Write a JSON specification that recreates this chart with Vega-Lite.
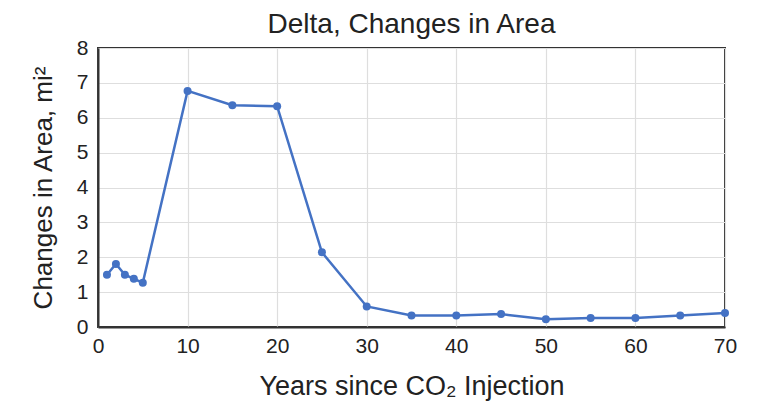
{
  "$schema": "https://vega.github.io/schema/vega-lite/v6.json",
  "width": 627,
  "height": 279,
  "autosize": {"type": "none"},
  "padding": {"left": 98, "top": 48, "right": 34, "bottom": 75},
  "background": "white",
  "title": {
    "text": "Delta, Changes in Area",
    "font": "Liberation Sans",
    "fontSize": 28,
    "fontWeight": "normal",
    "color": "#222",
    "anchor": "middle",
    "offset": -2
  },
  "config": {
    "view": {"stroke": "#333", "strokeWidth": 2},
    "axis": {
      "labelFont": "Liberation Sans",
      "titleFont": "Liberation Sans",
      "labelFontSize": 21,
      "titleFontSize": 27,
      "titleFontWeight": "normal",
      "labelColor": "#222",
      "titleColor": "#222",
      "gridColor": "#dedede",
      "gridWidth": 1.2,
      "ticks": false,
      "domainColor": "#333",
      "domainWidth": 2
    }
  },
  "data": {
    "values": [
      {"year": 1, "area": 1.5},
      {"year": 2, "area": 1.81},
      {"year": 3, "area": 1.5},
      {"year": 4, "area": 1.38},
      {"year": 5, "area": 1.27},
      {"year": 10, "area": 6.77},
      {"year": 15, "area": 6.36},
      {"year": 20, "area": 6.33},
      {"year": 25, "area": 2.14},
      {"year": 30, "area": 0.59},
      {"year": 35, "area": 0.33},
      {"year": 40, "area": 0.33},
      {"year": 45, "area": 0.37},
      {"year": 50, "area": 0.22},
      {"year": 55, "area": 0.26},
      {"year": 60, "area": 0.26},
      {"year": 65, "area": 0.33},
      {"year": 70, "area": 0.4}
    ]
  },
  "mark": {"type": "line", "color": "#4472C4", "strokeWidth": 2.5, "point": {"filled": true, "size": 64, "color": "#4472C4"}},
  "encoding": {
    "x": {
      "field": "year",
      "type": "quantitative",
      "scale": {"domain": [0, 70], "nice": false},
      "axis": {"values": [0, 10, 20, 30, 40, 50, 60, 70], "title": "Years since CO₂ Injection", "labelPadding": 8, "titlePadding": 17, "labelFlush": false}
    },
    "y": {
      "field": "area",
      "type": "quantitative",
      "scale": {"domain": [0, 8], "nice": false},
      "axis": {"values": [0, 1, 2, 3, 4, 5, 6, 7, 8], "title": "Changes in Area, mi²", "titleFontSize": 26, "labelPadding": 10, "titlePadding": 20, "labelFlush": false}
    }
  }
}
